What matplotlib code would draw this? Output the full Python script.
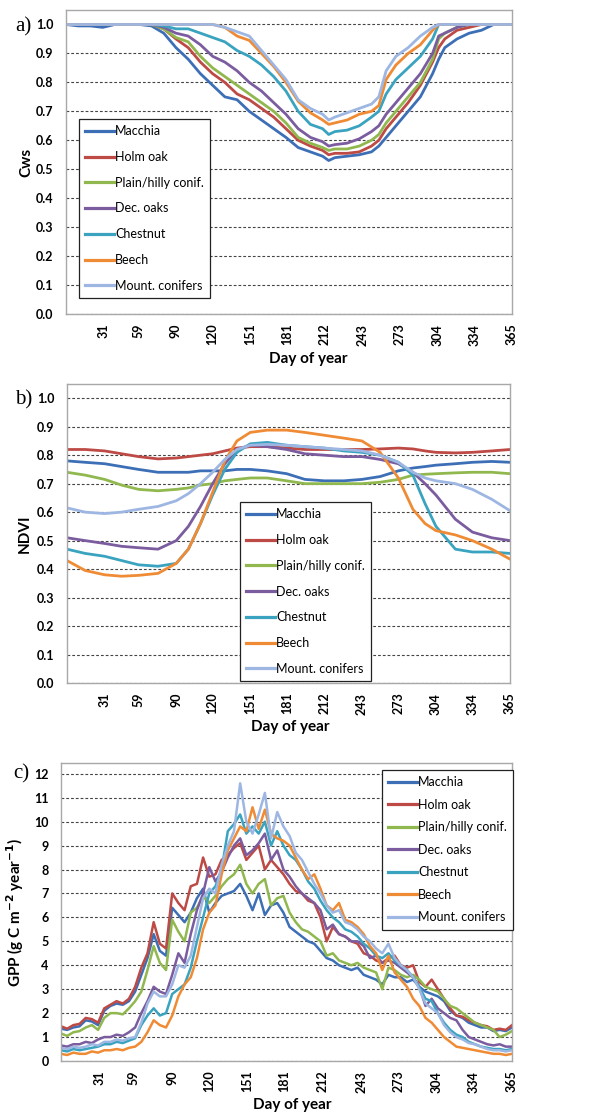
import numpy as np
import matplotlib
matplotlib.use("Agg")
import matplotlib.pyplot as plt

# series names and colours (same order in every panel)
names = ["Macchia", "Holm oak", "Plain/hilly conif.", "Dec. oaks", "Chestnut", "Beech", "Mount. conifers"]
colors = ["#3d6fb6", "#be4a46", "#90b84e", "#7b5c9f", "#3aa3c0", "#f08b35", "#9db6e2"]

day_ticks = [31, 59, 90, 120, 151, 181, 212, 243, 273, 304, 334, 365]

# ---- a) Cws ----
days_a = [0, 10, 20, 30, 40, 50, 60, 70, 80, 90, 100, 110, 120, 130, 140, 150, 160, 170, 180, 190,
          200, 210, 215, 220, 230, 240, 250, 256, 262, 270, 280, 290, 300, 305, 310, 320, 330, 340, 350, 365]
cws_macchia = [1.0, 0.995, 0.995, 0.99, 1.0, 1.0, 1.0, 0.995, 0.97, 0.92, 0.88, 0.83, 0.79, 0.75, 0.74, 0.70, 0.67, 0.64, 0.61, 0.575,
               0.56, 0.545, 0.53, 0.54, 0.545, 0.55, 0.56, 0.58, 0.61, 0.65, 0.70, 0.75, 0.83, 0.88, 0.92, 0.95, 0.97, 0.98, 1.0, 1.0]
cws_holm = [1.0, 1.0, 1.0, 1.0, 1.0, 1.0, 1.0, 1.0, 0.985, 0.95, 0.92, 0.87, 0.83, 0.80, 0.76, 0.74, 0.71, 0.68, 0.64, 0.60,
            0.58, 0.565, 0.55, 0.555, 0.555, 0.56, 0.58, 0.60, 0.64, 0.68, 0.73, 0.79, 0.87, 0.92, 0.95, 0.98, 0.99, 1.0, 1.0, 1.0]
cws_plain = [1.0, 1.0, 1.0, 1.0, 1.0, 1.0, 1.0, 1.0, 0.985, 0.955, 0.94, 0.89, 0.85, 0.82, 0.79, 0.76, 0.73, 0.70, 0.66, 0.61,
             0.59, 0.575, 0.565, 0.57, 0.57, 0.58, 0.60, 0.62, 0.66, 0.70, 0.75, 0.80, 0.88, 0.95, 0.97, 0.99, 1.0, 1.0, 1.0, 1.0]
cws_decoaks = [1.0, 1.0, 1.0, 1.0, 1.0, 1.0, 1.0, 1.0, 0.99, 0.97, 0.96, 0.93, 0.89, 0.87, 0.84, 0.80, 0.77, 0.73, 0.69, 0.64,
               0.61, 0.595, 0.58, 0.585, 0.59, 0.605, 0.63, 0.65, 0.69, 0.73, 0.78, 0.83, 0.90, 0.96, 0.97, 0.99, 1.0, 1.0, 1.0, 1.0]
cws_chestnut = [1.0, 1.0, 1.0, 1.0, 1.0, 1.0, 1.0, 1.0, 0.995, 0.985, 0.985, 0.97, 0.955, 0.94, 0.91, 0.89, 0.86, 0.82, 0.77, 0.70,
                0.655, 0.64, 0.62, 0.63, 0.635, 0.65, 0.68, 0.70, 0.76, 0.81, 0.85, 0.89, 0.95, 1.0, 1.0, 1.0, 1.0, 1.0, 1.0, 1.0]
cws_beech = [1.0, 1.0, 1.0, 1.0, 1.0, 1.0, 1.0, 1.0, 1.0, 1.0, 1.0, 1.0, 1.0, 0.99, 0.96, 0.945, 0.90, 0.855, 0.80, 0.735,
             0.695, 0.67, 0.655, 0.66, 0.67, 0.69, 0.70, 0.72, 0.81, 0.86, 0.90, 0.93, 0.98, 1.0, 1.0, 1.0, 1.0, 1.0, 1.0, 1.0]
cws_mount = [1.0, 1.0, 1.0, 1.0, 1.0, 1.0, 1.0, 1.0, 1.0, 1.0, 1.0, 1.0, 1.0, 0.99, 0.975, 0.96, 0.91, 0.86, 0.81, 0.74,
             0.71, 0.69, 0.67, 0.68, 0.695, 0.71, 0.725, 0.75, 0.84, 0.89, 0.92, 0.96, 0.99, 1.0, 1.0, 1.0, 1.0, 1.0, 1.0, 1.0]

# ---- b) NDVI ----
days_b = [0, 15, 31, 45, 59, 75, 90, 100, 110, 120, 130, 140, 151, 165, 181, 196, 212, 228, 243, 258,
          273, 285, 295, 304, 320, 334, 350, 365]
ndvi_macchia = [0.78, 0.775, 0.77, 0.76, 0.75, 0.74, 0.74, 0.74, 0.745, 0.745, 0.745, 0.75, 0.75, 0.745, 0.735, 0.715, 0.71, 0.71, 0.715, 0.725,
                0.745, 0.755, 0.76, 0.765, 0.77, 0.775, 0.778, 0.775]
ndvi_holm = [0.82, 0.82, 0.815, 0.805, 0.795, 0.787, 0.79, 0.795, 0.80, 0.805, 0.815, 0.825, 0.83, 0.83, 0.825, 0.82, 0.82, 0.82, 0.82, 0.822,
             0.825, 0.822, 0.815, 0.81, 0.808, 0.81, 0.815, 0.82]
ndvi_plain = [0.74, 0.73, 0.715, 0.695, 0.68, 0.675, 0.68, 0.685, 0.695, 0.70, 0.71, 0.715, 0.72, 0.72, 0.71, 0.70, 0.70, 0.70, 0.70, 0.705,
              0.715, 0.73, 0.733, 0.735, 0.738, 0.74, 0.74, 0.735]
ndvi_decoaks = [0.51, 0.50, 0.49, 0.48, 0.475, 0.47, 0.50, 0.55, 0.62, 0.70, 0.77, 0.82, 0.835, 0.83, 0.82, 0.805, 0.80, 0.795, 0.795, 0.785,
                0.77, 0.74, 0.70, 0.66, 0.575, 0.53, 0.51, 0.50]
ndvi_chestnut = [0.47, 0.455, 0.445, 0.43, 0.415, 0.41, 0.42, 0.47, 0.56, 0.66, 0.75, 0.81, 0.84, 0.845, 0.835, 0.83, 0.825, 0.815, 0.81, 0.80,
                 0.775, 0.73, 0.63, 0.55, 0.47, 0.46, 0.46, 0.455]
ndvi_beech = [0.43, 0.395, 0.38, 0.375, 0.378, 0.385, 0.42, 0.47, 0.56, 0.67, 0.78, 0.85, 0.88, 0.888, 0.888, 0.88, 0.87, 0.86, 0.85, 0.81,
              0.72, 0.61, 0.56, 0.535, 0.52, 0.50, 0.47, 0.435]
ndvi_mount = [0.615, 0.60, 0.595, 0.60, 0.61, 0.62, 0.64, 0.665, 0.70, 0.74, 0.785, 0.82, 0.835, 0.838, 0.835, 0.83, 0.825, 0.82, 0.815, 0.80,
              0.775, 0.74, 0.72, 0.71, 0.70, 0.68, 0.645, 0.605]

# ---- c) GPP, every 5 days ----
days_c = list(range(0, 366, 5))
gpp_macchia = [1.35, 1.3, 1.4, 1.45, 1.7, 1.65, 1.5, 2.1, 2.3, 2.4, 2.35, 2.5, 2.9, 3.6, 4.3, 5.3, 4.6, 4.4, 6.4, 6.1,
               5.8, 6.2, 6.8, 7.2, 6.2, 6.6, 6.9, 7.0, 7.1, 7.4, 6.9, 6.3, 7.0, 6.1, 6.5, 6.6, 6.2, 5.6, 5.4, 5.2,
               5.0, 4.9, 4.6, 4.3, 4.2, 4.0, 3.9, 3.8, 3.9, 3.6, 3.5, 3.4, 3.2, 3.6, 3.5, 3.5, 3.3, 3.4, 3.1, 2.9,
               2.8, 2.7, 2.5, 2.1, 1.9, 1.8, 1.6, 1.5, 1.4, 1.4, 1.25, 1.3, 1.25, 1.4]
gpp_holm = [1.45, 1.35, 1.5, 1.55, 1.8, 1.75, 1.6, 2.2, 2.35, 2.5, 2.4, 2.6, 3.1, 3.9, 4.5, 5.8, 4.9, 4.7, 7.0, 6.6,
            6.3, 7.3, 7.4, 8.5, 7.7, 7.8, 8.4, 8.6, 8.9, 9.1, 8.4, 8.7, 9.0, 8.0, 8.4, 8.1, 7.8, 7.4, 7.1, 7.0,
            6.7, 6.6, 6.0, 5.0, 5.6, 5.3, 5.2, 5.0, 4.9, 4.5, 4.4, 4.2, 4.1, 4.3, 4.4, 4.0, 3.9, 4.0, 3.3, 3.1,
            3.4, 3.0, 2.6, 2.2, 1.9, 1.85, 1.7, 1.6, 1.5, 1.45, 1.3, 1.35, 1.3, 1.5]
gpp_plain = [1.15, 1.05, 1.2, 1.25, 1.4, 1.5, 1.3, 1.8, 2.0, 2.0, 1.95, 2.2, 2.5, 2.9, 3.8, 4.8, 4.1, 3.8, 5.9, 5.4,
             5.0, 6.2, 6.4, 6.9, 6.6, 6.9, 7.3, 7.6, 7.8, 8.2, 7.4, 7.0, 7.4, 7.6, 6.5, 6.8, 6.9, 6.2, 5.8, 5.5,
             5.4, 5.2, 5.0, 4.4, 4.5, 4.2, 4.1, 4.0, 4.1, 3.9, 3.8, 3.7, 3.0, 3.9, 3.8, 3.6, 3.5, 3.6, 3.4, 3.1,
             3.0, 2.9, 2.6, 2.3, 2.2, 2.0, 1.8, 1.6, 1.5, 1.4, 1.3, 1.0, 1.1, 1.25]
gpp_decoaks = [0.65, 0.6, 0.7, 0.7, 0.8, 0.75, 0.9, 1.0, 1.0, 1.1, 1.05, 1.2, 1.4, 2.0, 2.5, 3.1, 2.9, 2.8, 3.6, 4.5,
               4.1, 5.3, 6.3, 7.0, 8.1, 7.5, 7.9, 8.5, 9.0, 9.3, 8.6, 8.8, 9.1, 9.5, 8.4, 8.8, 8.0, 7.7, 7.3, 7.0,
               6.8, 6.6, 6.3, 5.5, 5.7, 5.3, 5.2, 5.0, 5.0, 4.8, 4.3, 4.4, 4.1, 4.2, 4.1, 3.9, 3.7, 3.5, 3.1, 2.3,
               2.6, 2.2, 2.0, 1.8, 1.7, 1.3, 1.0, 0.9, 0.8, 0.7, 0.65, 0.7, 0.6, 0.6]
gpp_chestnut = [0.45, 0.4, 0.5, 0.45, 0.5, 0.55, 0.6, 0.7, 0.7, 0.8, 0.75, 0.85, 0.95, 1.5, 1.9, 2.2, 1.9, 2.0, 2.8, 3.0,
                3.2, 3.9, 5.0, 6.0, 7.0, 7.3, 8.0, 9.6, 9.9, 10.3, 9.5, 9.8, 9.5, 10.0, 9.0, 9.6, 9.0, 8.6, 8.4, 8.0,
                7.5, 7.2, 6.7, 6.3, 6.0, 5.8, 5.5, 5.4, 5.2, 4.9, 4.7, 4.4, 4.3, 4.5, 4.2, 4.0, 3.8, 3.5, 3.1, 2.6,
                2.5, 2.0, 1.6, 1.3, 1.1, 1.0, 0.8, 0.7, 0.6, 0.55, 0.5, 0.5, 0.45, 0.5]
gpp_beech = [0.3, 0.25, 0.35, 0.3, 0.3, 0.4, 0.35, 0.45, 0.45, 0.5, 0.45, 0.55, 0.6, 0.8, 1.2, 1.7, 1.5, 1.4, 1.9, 2.7,
             3.2, 3.5, 4.3, 5.5, 6.2, 6.5, 7.8, 8.8, 9.3, 9.8, 9.6, 10.6, 9.7, 10.5, 9.5, 9.3, 9.2, 9.0, 8.5, 8.0,
             7.6, 7.8, 7.2, 6.5, 6.3, 6.6, 5.9, 5.8, 5.6, 5.3, 4.8, 4.5, 3.8, 4.4, 3.7, 3.4, 3.1, 2.6, 2.3, 1.8,
             1.6, 1.3, 1.0, 0.8, 0.6, 0.55, 0.5, 0.45, 0.4, 0.35, 0.3, 0.3, 0.25, 0.3]
gpp_mount = [0.55, 0.5, 0.6, 0.55, 0.6, 0.7, 0.65, 0.8, 0.8, 0.9, 0.85, 0.95, 1.0, 1.6, 2.4, 2.9, 2.7, 2.7, 3.2, 4.0,
             3.9, 4.4, 5.6, 6.8, 7.2, 7.0, 8.2, 9.0, 9.6, 11.6, 10.0, 9.5, 10.3, 11.2, 9.3, 10.4, 9.8, 9.4, 8.7, 8.4,
             7.9, 7.4, 7.0, 6.5, 6.2, 6.3, 5.8, 5.7, 5.5, 5.2, 5.0, 4.7, 4.5, 4.9, 4.3, 4.0, 3.8, 3.5, 3.0, 2.4,
             2.2, 2.0, 1.5, 1.2, 1.0, 0.9, 0.75, 0.7, 0.6, 0.5, 0.45, 0.45, 0.4, 0.45]

cws = [cws_macchia, cws_holm, cws_plain, cws_decoaks, cws_chestnut, cws_beech, cws_mount]
ndvi = [ndvi_macchia, ndvi_holm, ndvi_plain, ndvi_decoaks, ndvi_chestnut, ndvi_beech, ndvi_mount]
gpp = [gpp_macchia, gpp_holm, gpp_plain, gpp_decoaks, gpp_chestnut, gpp_beech, gpp_mount]

plt.rcParams['font.family'] = ['Lato', 'DejaVu Sans']
W, H = 595, 1119
fig = plt.figure(figsize=(W / 100, H / 100), dpi=100)


def rect(l, t, r, b):
    # pixel box -> figure fraction
    return [l / W, 1 - b / H, (r - l) / W, (b - t) / H]


def setup(ax, ymax, yticks, yfmt, ylabel, xlab_x):
    ax.set_xlim(0, 365)
    ax.set_ylim(0, ymax)
    ax.set_xticks(day_ticks)
    ax.set_xticklabels([str(d) for d in day_ticks], rotation=90, fontsize=9, fontweight='bold')
    ax.set_yticks(yticks)
    ax.set_yticklabels([yfmt % v for v in yticks], fontsize=9, fontweight='bold')
    ax.tick_params(axis='both', length=0)
    ax.tick_params(axis='x', pad=7)
    ax.tick_params(axis='y', pad=9)
    ax.grid(axis='y', color='#444444', linestyle=(0, (2.5, 1.8)), linewidth=0.8)
    ax.set_axisbelow(True)
    for s in ax.spines.values():
        s.set_color('#a8a8a8')
        s.set_linewidth(1.0)
    ax.set_xlabel('Day of year', fontsize=11, fontweight='bold')
    ax.xaxis.set_label_coords(xlab_x, -0.125)
    ax.set_ylabel(ylabel, fontsize=11, fontweight='bold')


def add_legend(ax, x, y, spacing):
    leg = ax.legend(loc='upper left', bbox_to_anchor=(x / W, 1 - y / H), bbox_transform=fig.transFigure,
                    fontsize=9, handlelength=2.3, handletextpad=0.1, labelspacing=spacing,
                    borderpad=0.5, borderaxespad=0, fancybox=False, framealpha=1)
    leg.get_frame().set_edgecolor('#222222')
    leg.get_frame().set_linewidth(0.9)
    for ln in leg.get_lines():
        ln.set_linewidth(2.3)


# a) Cws
ax1 = fig.add_axes(rect(66, 10, 512, 314))
for vals, c, n in zip(cws, colors, names):
    ax1.plot(days_a, vals, color=c, lw=2.0, label=n)
setup(ax1, 1.05, [round(0.1 * i, 1) for i in range(11)], '%.1f', 'Cws', 0.543)
ax1.yaxis.set_label_coords(-0.074, 0.5)
add_legend(ax1, 79, 119, 1.1)

# b) NDVI
ax2 = fig.add_axes(rect(67, 384, 510, 683))
for vals, c, n in zip(ndvi, colors, names):
    ax2.plot(days_b, vals, color=c, lw=2.0, label=n)
setup(ax2, 1.05, [round(0.1 * i, 1) for i in range(11)], '%.1f', 'NDVI', 0.503)
ax2.yaxis.set_label_coords(-0.079, 0.5)
add_legend(ax2, 240, 502, 1.1)

# c) GPP
ax3 = fig.add_axes(rect(61, 763, 512, 1061))
for vals, c, n in zip(gpp, colors, names):
    ax3.plot(days_c, vals, color=c, lw=1.8, label=n)
setup(ax3, 12.45, list(range(13)), '%d', 'GPP (g C m$^{\\mathbf{-2}}$ year$^{\\mathbf{-1}}$)', 0.512)
ax3.yaxis.set_label_coords(-0.078, 0.5)
add_legend(ax3, 382, 770, 0.84)

fig.text(15 / W, 1 - 27 / H, 'a)', family='Liberation Serif', fontsize=15, va='center')
fig.text(15 / W, 1 - 400 / H, 'b)', family='Liberation Serif', fontsize=15, va='center')
fig.text(13 / W, 1 - 774 / H, 'c)', family='Liberation Serif', fontsize=15, va='center')

fig.savefig('out.png', dpi=100)
